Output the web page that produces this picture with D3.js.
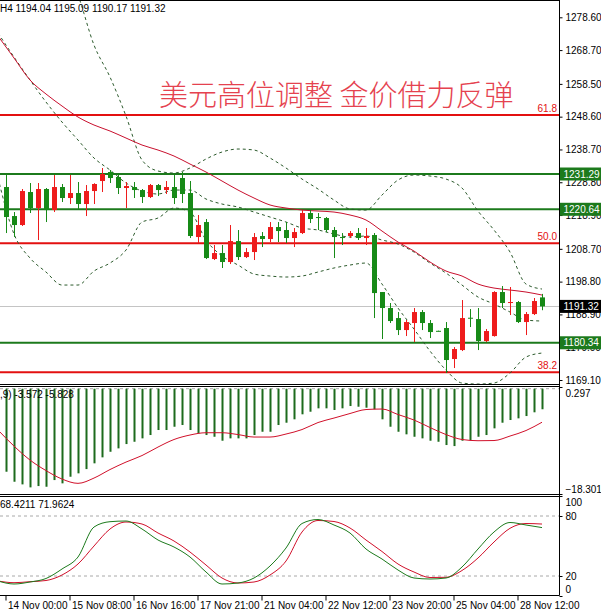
<!DOCTYPE html>
<html>
<head>
<meta charset="utf-8">
<script src="https://cdn.jsdelivr.net/npm/d3@7"></script>
<style>
  body { margin: 0; background: #fff; }
  svg { display: block; font-family: "Liberation Sans", Arial, sans-serif; }
</style>
</head>
<body>
<div id="chart"></div>
<script>
// ---- data (XAUUSD H4) ----
var opens  = [1227.36,1218.60,1215.89,1225.85,1221.02,1226.76,1220.41,1227.36,1224.04,1225.55,1222.23,1226.15,1229.17,1231.89,1230.38,1227.06,1227.36,1226.45,1224.34,1227.96,1226.45,1227.36,1230.08,1225.55,1212.26,1216.79,1205.62,1207.43,1204.72,1211.05,1206.22,1207.73,1212.57,1211.66,1215.28,1214.38,1211.96,1213.47,1219.51,1218.30,1218.00,1214.38,1212.26,1212.57,1213.47,1211.96,1212.87,1195.66,1190.83,1187.80,1184.18,1186.30,1189.62,1186.30,1183.95,1184.79,1175.43,1178.14,1187.90,1187.50,1180.86,1182.37,1195.66,1192.34,1192.64,1186.60,1189.01,1194.04];
var highs  = [1230.98,1219.81,1226.76,1228.57,1228.57,1227.06,1230.98,1228.27,1230.98,1228.87,1227.96,1228.50,1233.10,1232.49,1230.98,1228.87,1228.87,1226.76,1228.27,1228.27,1229.17,1230.98,1231.89,1229.17,1218.91,1217.70,1209.85,1209.85,1215.89,1214.38,1208.94,1213.47,1213.77,1216.79,1216.79,1216.79,1214.98,1220.41,1220.41,1219.51,1218.30,1215.28,1213.47,1214.07,1214.98,1214.98,1213.47,1195.66,1192.34,1189.62,1187.20,1190.83,1190.22,1187.20,1184.00,1186.60,1179.05,1193.24,1190.52,1190.83,1184.50,1195.90,1197.47,1197.17,1192.94,1189.62,1193.85,1195.09];
var lows   = [1213.47,1212.26,1215.60,1219.51,1211.36,1216.79,1219.81,1222.83,1222.23,1220.72,1218.60,1222.23,1225.85,1228.57,1225.25,1221.02,1224.04,1222.53,1224.04,1224.64,1225.25,1222.23,1222.53,1211.96,1210.45,1205.62,1205.32,1202.91,1204.11,1205.32,1205.92,1205.32,1209.24,1210.75,1210.75,1210.45,1209.24,1213.17,1216.49,1214.38,1213.77,1205.92,1209.85,1211.96,1211.36,1209.85,1187.80,1181.47,1186.30,1182.67,1182.37,1180.56,1184.18,1181.77,1183.80,1171.20,1172.71,1177.84,1185.09,1178.14,1180.56,1182.20,1190.83,1188.71,1186.30,1182.67,1188.71,1190.17];
var closes = [1218.30,1215.89,1226.15,1221.02,1226.76,1220.41,1227.36,1224.04,1225.55,1222.23,1226.15,1228.27,1231.28,1230.08,1227.06,1227.66,1226.45,1224.34,1227.96,1226.45,1227.36,1224.04,1225.25,1212.57,1215.89,1205.92,1207.43,1204.72,1211.05,1206.22,1207.73,1212.26,1211.66,1215.28,1214.07,1211.96,1213.77,1219.51,1217.70,1218.00,1214.38,1212.26,1211.96,1213.47,1211.96,1212.57,1195.35,1190.83,1186.90,1184.18,1186.60,1189.62,1186.30,1183.58,1183.88,1175.13,1178.45,1187.80,1187.80,1180.86,1183.88,1195.66,1192.34,1192.64,1186.60,1189.01,1192.94,1191.32];

// indicator lines read every second bar
var lineIdx   = d3.range(-1, 68, 2);
var maLine    = [1272.95,1266.31,1259.67,1255.44,1251.82,1248.49,1246.08,1244.27,1242.15,1240.04,1238.53,1236.72,1234.30,1231.89,1229.17,1226.45,1224.04,1221.94,1221.02,1220.41,1220.11,1219.81,1218.91,1217.40,1214.07,1210.75,1208.03,1204.72,1202.00,1200.49,1198.07,1196.86,1196.26,1195.66,1194.75];
var bbUpper   = [1317.64,1320.05,1313.41,1304.35,1296.20,1285.33,1270.23,1260.57,1248.80,1235.51,1232.19,1231.59,1233.10,1235.81,1237.93,1238.83,1238.53,1236.12,1233.10,1229.77,1226.76,1223.43,1220.72,1220.41,1224.94,1229.47,1230.98,1230.68,1229.77,1227.06,1220.11,1214.38,1207.73,1198.07,1196.56];
var bbMiddle  = [1273.86,1266.61,1259.67,1253.02,1246.98,1241.55,1236.12,1232.49,1228.57,1226.15,1225.25,1226.45,1226.45,1223.74,1222.23,1221.32,1219.81,1218.30,1216.79,1214.98,1214.38,1213.17,1212.26,1212.57,1211.36,1210.15,1207.73,1204.41,1201.39,1197.77,1194.15,1192.04,1189.62,1187.20,1186.90];
var bbLower   = [1230.08,1213.17,1205.92,1201.70,1197.77,1197.77,1202.00,1204.41,1208.34,1216.79,1218.00,1221.02,1219.81,1211.36,1206.53,1203.81,1201.09,1200.49,1200.19,1200.49,1201.70,1202.91,1203.81,1204.41,1198.07,1190.83,1184.48,1177.84,1172.11,1168.18,1167.88,1168.18,1171.20,1176.03,1177.24];

var macdHist  = [-14.43,-16.17,-16.63,-17.15,-16.92,-17.04,-15.88,-16.45,-15.30,-14.71,-13.97,-12.97,-11.93,-10.96,-10.37,-9.62,-9.22,-8.63,-8.05,-7.18,-7.18,-6.61,-6.31,-7.18,-7.76,-8.05,-8.35,-9.04,-8.63,-8.63,-8.63,-8.05,-7.48,-7.48,-6.31,-5.91,-5.32,-4.45,-4.00,-3.41,-3.41,-3.70,-3.41,-3.01,-3.13,-3.30,-3.58,-5.32,-6.61,-7.48,-7.93,-8.35,-8.63,-9.04,-9.22,-9.79,-9.97,-9.04,-8.92,-8.35,-8.05,-6.89,-5.91,-5.44,-5.15,-4.75,-4.10,-3.572];
var macdSignal = [-7.18,-9.97,-12.40,-14.23,-15.70,-16.45,-15.53,-14.05,-12.75,-11.62,-10.14,-8.83,-8.05,-7.65,-7.65,-7.97,-8.40,-8.40,-7.88,-7.10,-5.88,-5.10,-4.31,-3.62,-3.53,-4.49,-5.44,-6.75,-7.97,-8.83,-9.04,-9.01,-8.23,-7.27,-5.828];

var stochK = [15,12,14,17.5,27,39,69,74.3,75,67,56,49,39,24,12,13,18,30,48,72.5,76.5,71,63,47,37,26,18,17,18,29,47,64,73.5,71,68.42];
var stochD = [15,13.3,14.3,15.5,21,32,50,67,74,72,63,55,44,31,18,13,14,21,35,64,75.5,74.5,68,56,44.5,32,24,18.5,18.7,25.5,38,54,67.7,72.5,71.96];

var priceTicks = [1278.60,1268.70,1258.50,1248.60,1238.70,1228.80,1218.90,1208.70,1198.80,1188.90,1179.00,1169.10];
var greenLevels = [1231.29, 1220.64, 1180.34];
var fibLevels = [1249.10, 1210.36, 1171.41];
var fibNames = ["61.8", "50.0", "38.2"];
var lastPrice = 1191.32;
var timeIdx = [0, 8, 16, 24, 32, 40, 48, 56, 64];
var timeLabels = ["14 Nov 00:00","15 Nov 08:00","16 Nov 16:00","17 Nov 21:00","21 Nov 04:00","22 Nov 12:00","23 Nov 20:00","25 Nov 04:00","28 Nov 12:00"];
var macdRange = [-18.301, 0.297];
var stochLevels = [80, 20];

// ---- layout ----
var W = 601, H = 611, plotR = 559.5;
var mainBottom = 384.5, macdTop = 386.5, macdBottom = 494.5, stTop = 496.5, stBottom = 595.5;

var upCol = "#ee1c1c", downCol = "#178a17";

var x  = d3.scaleLinear().domain([0, 67]).range([6, 542]);
var y  = d3.scaleLinear().domain([1169.1, 1278.6]).range([380.0, 17.3]);
var yM = d3.scaleLinear().domain(macdRange).range([494, 387]);
var yS = d3.scaleLinear().domain([0, 100]).range([596, 496]);

var svg = d3.select("#chart").append("svg")
  .attr("width", W).attr("height", H);

var defs = svg.append("defs");
function clip(id, y0, y1) {
  defs.append("clipPath").attr("id", id)
    .append("rect").attr("x", 0).attr("y", y0).attr("width", plotR).attr("height", y1 - y0);
}
clip("cMain", 1, mainBottom);
clip("cMacd", macdTop, macdBottom);
clip("cSt", stTop, stBottom);

// ---- main panel ----
var main = svg.append("g").attr("clip-path", "url(#cMain)");

// last price line
main.append("line")
  .attr("x1", 0).attr("x2", plotR)
  .attr("y1", Math.round(y(lastPrice)) + 0.5).attr("y2", Math.round(y(lastPrice)) + 0.5)
  .attr("stroke", "#c4c4c4");

// title
main.append("text")
  .attr("x", 159).attr("y", 106)
  .attr("font-family", "'Noto Sans CJK SC', sans-serif")
  .attr("font-size", 29)
  .attr("font-weight", 300)
  .attr("fill", "#e5424f")
  .text("美元高位调整 金价借力反弹");

// fib levels
main.selectAll("line.fib").data(fibLevels).enter().append("line")
  .attr("class", "fib")
  .attr("x1", 0).attr("x2", plotR)
  .attr("y1", function(d) { return y(d); }).attr("y2", function(d) { return y(d); })
  .attr("stroke", "#e31010").attr("stroke-width", 2);
main.selectAll("text.fib").data(fibLevels).enter().append("text")
  .attr("class", "fib")
  .attr("x", 557).attr("y", function(d) { return y(d) - 3; })
  .attr("text-anchor", "end")
  .attr("font-size", 10).attr("fill", "#e31010")
  .text(function(d, i) { return fibNames[i]; });

// green support / resistance
main.selectAll("line.lvl").data(greenLevels).enter().append("line")
  .attr("class", "lvl")
  .attr("x1", 0).attr("x2", plotR)
  .attr("y1", function(d) { return y(d); }).attr("y2", function(d) { return y(d); })
  .attr("stroke", "#1c7a1c").attr("stroke-width", 2);

// bollinger + MA
function lineOf(values, scale) {
  return d3.line()
    .x(function(d, i) { return x(lineIdx[i]); })
    .y(function(d) { return scale(d); })
    .curve(d3.curveMonotoneX)(values);
}
[bbUpper, bbMiddle, bbLower].forEach(function(band) {
  main.append("path")
    .attr("d", lineOf(band, y))
    .attr("fill", "none")
    .attr("stroke", "#2c5a2c")
    .attr("stroke-width", 1)
    .attr("stroke-dasharray", "3,3");
});
main.append("path")
  .attr("d", lineOf(maLine, y))
  .attr("fill", "none")
  .attr("stroke", "#c8102e")
  .attr("stroke-width", 1);

// candles
var candles = main.selectAll("g.candle").data(opens).enter().append("g").attr("class", "candle");
candles.append("line")
  .attr("x1", function(d, i) { return x(i) + 0.5; })
  .attr("x2", function(d, i) { return x(i) + 0.5; })
  .attr("y1", function(d, i) { return y(highs[i]); })
  .attr("y2", function(d, i) { return y(lows[i]); })
  .attr("stroke", function(d, i) { return closes[i] >= opens[i] ? upCol : downCol; });
candles.append("rect")
  .attr("x", function(d, i) { return x(i) - 2; })
  .attr("width", 5)
  .attr("y", function(d, i) { return y(Math.max(opens[i], closes[i])); })
  .attr("height", function(d, i) { return Math.max(1, Math.abs(y(opens[i]) - y(closes[i]))); })
  .attr("fill", function(d, i) { return closes[i] >= opens[i] ? upCol : downCol; });

svg.append("text")
  .attr("x", 0).attr("y", 12)
  .attr("font-size", 10).attr("fill", "#000")
  .text("H4  1194.04 1195.09 1190.17 1191.32");

// ---- MACD panel ----
var macd = svg.append("g").attr("clip-path", "url(#cMacd)");
macd.append("line")
  .attr("x1", 0).attr("x2", plotR)
  .attr("y1", yM(0)).attr("y2", yM(0))
  .attr("stroke", "#a8a8a8").attr("stroke-dasharray", "3,3");
macd.selectAll("rect.hist").data(macdHist).enter().append("rect")
  .attr("class", "hist")
  .attr("x", function(d, i) { return x(i) - 0.5; })
  .attr("width", 2)
  .attr("y", yM(0))
  .attr("height", function(d) { return yM(d) - yM(0); })
  .attr("fill", "#1d6b1d");
macd.append("path")
  .attr("d", lineOf(macdSignal, yM))
  .attr("fill", "none").attr("stroke", "#d0102a").attr("stroke-width", 1);
svg.append("text")
  .attr("x", 0).attr("y", 398)
  .attr("font-size", 10).attr("fill", "#000")
  .text(",9) -3.572 -5.828");

// ---- Stochastic panel ----
var st = svg.append("g").attr("clip-path", "url(#cSt)");
st.selectAll("line.lv").data(stochLevels).enter().append("line")
  .attr("class", "lv")
  .attr("x1", 0).attr("x2", plotR)
  .attr("y1", function(d) { return yS(d); }).attr("y2", function(d) { return yS(d); })
  .attr("stroke", "#a8a8a8").attr("stroke-dasharray", "3,3");
st.append("path")
  .attr("d", lineOf(stochD, yS))
  .attr("fill", "none").attr("stroke", "#d0102a").attr("stroke-width", 1);
st.append("path")
  .attr("d", lineOf(stochK, yS))
  .attr("fill", "none").attr("stroke", "#1c7a1c").attr("stroke-width", 1);
svg.append("text")
  .attr("x", 0).attr("y", 508)
  .attr("font-size", 10).attr("fill", "#000")
  .text("68.4211 71.9624");

// ---- frames ----
var frame = svg.append("g").attr("stroke", "#000").attr("stroke-width", 1);
[0.5, mainBottom, macdTop, macdBottom, stTop, stBottom].forEach(function(yy) {
  frame.append("line").attr("x1", 0).attr("x2", plotR).attr("y1", yy).attr("y2", yy);
});
frame.append("line").attr("x1", plotR).attr("x2", plotR).attr("y1", 0).attr("y2", stBottom);

// ---- right axes ----
var axisMain = svg.append("g")
  .attr("transform", "translate(" + plotR + ",0)")
  .call(d3.axisRight(y).tickValues(priceTicks).tickSize(3).tickPadding(3).tickFormat(d3.format(".2f")));
axisMain.select(".domain").remove();
axisMain.selectAll("text").attr("font-size", 10).attr("font-family", "'Liberation Sans', Arial, sans-serif").attr("fill", "#000");

function priceBox(v, fill) {
  var g = svg.append("g");
  g.append("rect")
    .attr("x", plotR + 0.5).attr("y", y(v) - 6.5)
    .attr("width", W - plotR).attr("height", 13)
    .attr("fill", fill);
  g.append("text")
    .attr("x", plotR + 4).attr("y", y(v) + 3.6)
    .attr("font-size", 10).attr("fill", "#fff")
    .text(v.toFixed(2));
}
greenLevels.forEach(function(v) { priceBox(v, "#1c7a1c"); });
priceBox(lastPrice, "#000");

var axisMacd = svg.append("g")
  .attr("transform", "translate(" + plotR + ",0)")
  .call(d3.axisRight(yM).tickValues(macdRange).tickSize(3).tickPadding(3).tickFormat(d3.format(".3f")));
axisMacd.select(".domain").remove();
axisMacd.selectAll(".tick text")
  .attr("font-size", 10).attr("font-family", "'Liberation Sans', Arial, sans-serif").attr("fill", "#000")
  .attr("dy", function(d) { return d > 0 ? "0.9em" : "-0.2em"; });

var axisSt = svg.append("g")
  .attr("transform", "translate(" + plotR + ",0)")
  .call(d3.axisRight(yS).tickValues([100, 80, 20, 0]).tickSize(3).tickPadding(3));
axisSt.select(".domain").remove();
axisSt.selectAll(".tick text")
  .attr("font-size", 10).attr("font-family", "'Liberation Sans', Arial, sans-serif").attr("fill", "#000")
  .attr("dy", function(d) { return d === 100 ? "0.95em" : (d === 0 ? "-0.35em" : "0.32em"); });

// ---- time axis ----
var axisT = svg.append("g")
  .attr("transform", "translate(-0.5," + stBottom + ")")
  .call(d3.axisBottom(x).tickValues(timeIdx).tickSize(5)
    .tickFormat(function(d, i) { return timeLabels[i]; }));
axisT.select(".domain").remove();
axisT.selectAll(".tick text")
  .attr("text-anchor", "start")
  .attr("x", 2).attr("y", 6.5)
  .attr("font-size", 10).attr("font-family", "'Liberation Sans', Arial, sans-serif").attr("fill", "#000");
</script>
</body>
</html>
